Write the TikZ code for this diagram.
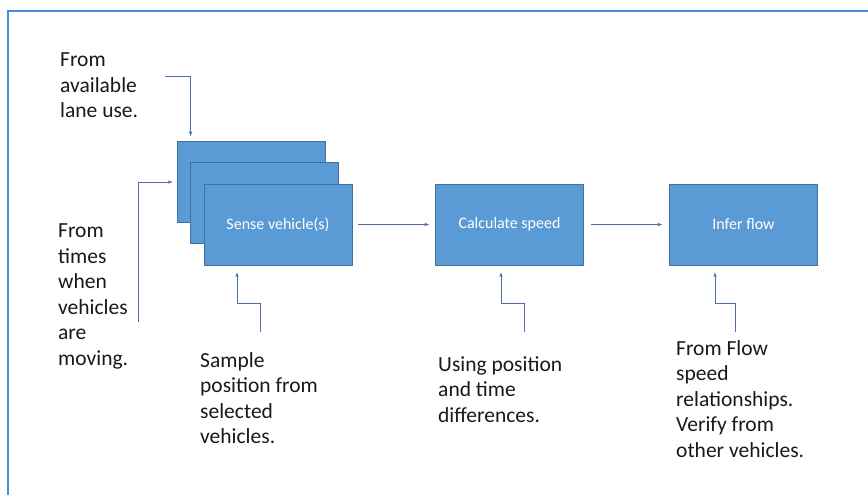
\documentclass[tikz,border=0pt]{standalone}
\usepackage{xcolor}
\usepackage{fontspec}
\setmainfont{Carlito}
\usepackage{tikz}
\usetikzlibrary{arrows.meta,positioning,calc}
\definecolor{boxblue}{RGB}{91,155,213}
\definecolor{boxedge}{RGB}{65,113,156}
\definecolor{linkblue}{RGB}{82,108,168}
\definecolor{frameblue}{RGB}{74,140,215}
\definecolor{notegray}{RGB}{25,25,25}

\begin{document}
\begin{tikzpicture}[
    x=1pt, y=-1pt,
    box/.style={rectangle, draw=boxedge, fill=boxblue, line width=0.8pt, minimum width=148pt, minimum height=81pt, text=white, font=\fontsize{16}{19}\selectfont},
    note/.style={anchor=north west, align=left, inner sep=0pt, text=notegray, font=\fontsize{21.5}{25.5}\selectfont},
    arrow/.style={-{Stealth[length=5pt,width=3.5pt]}, draw=linkblue, line width=0.8pt}
]
    \useasboundingbox (0,0) rectangle (868,495);
    \draw[frameblue, line width=1.2pt] (8,495) -- (8,11) -- (868,11);

    % stacked boxes
    \node[box] (back) at (251,182) {};
    \node[box] (mid) at (264.5,203) {};
    \node[box] (sense) at (278,224.5) {Sense vehicle(s)};
    \node[box] (calc) at (509.5,224.5) {Calculate speed};
    \node[box] (infer) at (743.5,224.5) {Infer flow};

    % notes
    \node[note] (lane) at (60,53) {From\\available\\lane use.};
    \node[note] (moving) at (58,224) {From\\times\\when\\vehicles\\are\\moving.};
    \node[note] (sample) at (200,352) {Sample\\position from\\selected\\vehicles.};
    \node[note] (using) at (438,356) {Using position\\and time\\differences.};
    \node[note] (flow) at (676,340) {From Flow\\speed\\relationships.\\Verify from\\other vehicles.};

    % free ends of the feeds
    \coordinate (laneA) at (165,76);
    \coordinate (movingA) at (138,322);
    \coordinate (sampleA) at (260,332);
    \coordinate (usingA) at (524,332);
    \coordinate (flowA) at (735,332);

    \draw[arrow, shorten <=6pt, shorten >=6pt] (sense) -- (calc);
    \draw[arrow, shorten <=7pt, shorten >=7pt] (calc) -- (infer);
    \draw[arrow, shorten >=5pt] (laneA) -| ([xshift=14pt]back.north west);
    \draw[arrow, shorten >=4pt] (movingA) |- (back.west);
    \draw[arrow, shorten >=7pt] (sampleA) -- ++(0,-29) -| ([xshift=-41pt]sense.south);
    \draw[arrow, shorten >=7pt] (usingA) -- ++(0,-29) -| ([xshift=-8.5pt]calc.south);
    \draw[arrow, shorten >=7pt] (flowA) -- ++(0,-29) -| ([xshift=-28.5pt]infer.south);
\end{tikzpicture}
\end{document}
